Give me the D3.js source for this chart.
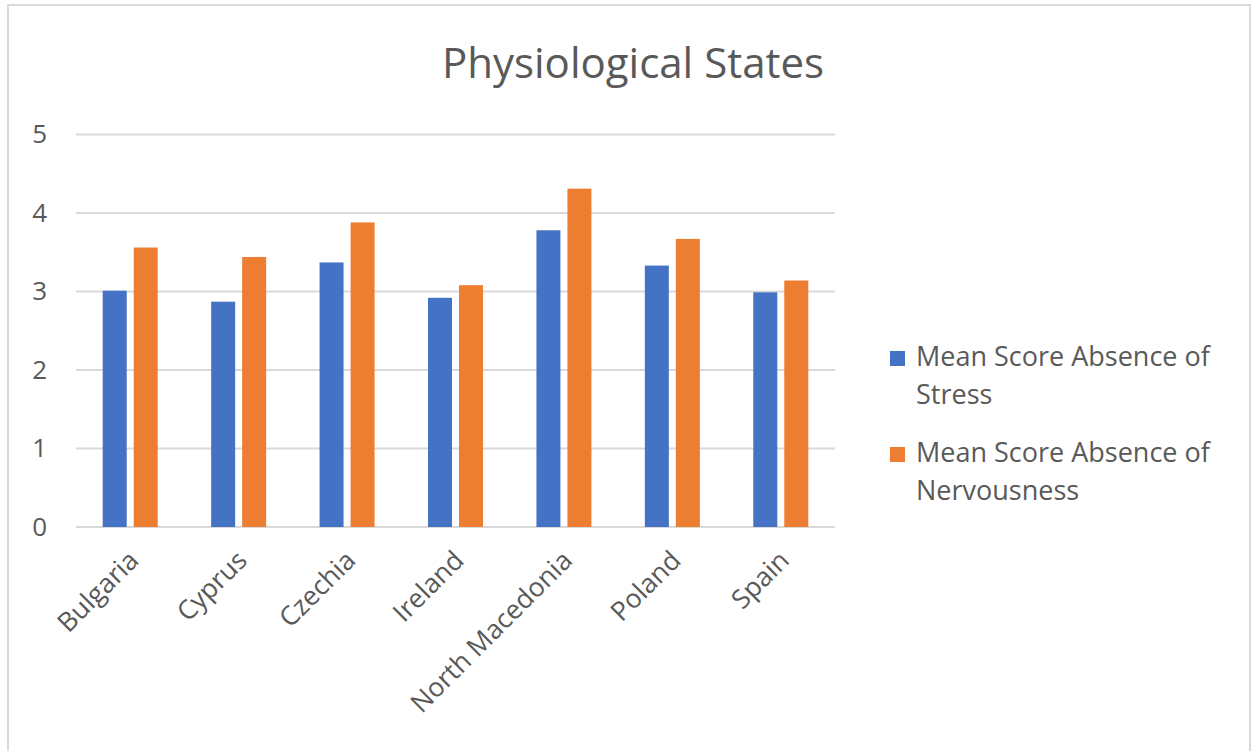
<!DOCTYPE html>
<html>
<head>
<meta charset="utf-8">
<script src="https://cdn.jsdelivr.net/npm/d3@7"></script>
<style>
  html, body { margin: 0; padding: 0; background: #fff; }
  svg { display: block; }
  text { font-family: "Open Sans", "Noto Sans", sans-serif; fill: #595959; }
</style>
</head>
<body>
<svg id="chart" width="1252" height="751"></svg>
<script>
// Country categories along the x axis
const countries = ["Bulgaria", "Cyprus", "Czechia", "Ireland", "North Macedonia", "Poland", "Spain"];
// Series names (legend)
const seriesNames = ["Mean Score Absence of Stress", "Mean Score Absence of Nervousness"];
// Mean scores per country
const stressScores = [3.01, 2.87, 3.37, 2.92, 3.78, 3.33, 2.99];
const nervousScores = [3.56, 3.44, 3.88, 3.08, 4.31, 3.67, 3.14];
// Y axis ticks
const yTicks = [0, 1, 2, 3, 4, 5];
const seriesColors = ["#4472C4", "#ED7D31"];
const titleText = "Physiological States";

const svg = d3.select("#chart");
const W = 1252, H = 751;

// Outer chart border
svg.append("rect")
  .attr("x", 8).attr("y", 5)
  .attr("width", W - 10).attr("height", H - 4)
  .attr("fill", "#fff").attr("stroke", "#d9d9d9").attr("stroke-width", 2);

const plot = { left: 76, right: 835, top: 134.5, bottom: 527 };

const x0 = d3.scaleBand().domain(countries).range([plot.left, plot.right]).paddingInner(0).paddingOuter(0);
const groupW = 55;
const x1 = d3.scaleBand().domain(seriesNames)
  .range([x0.bandwidth() / 2 - groupW / 2, x0.bandwidth() / 2 + groupW / 2])
  .paddingInner(7 / 31).paddingOuter(0);
const y = d3.scaleLinear().domain([0, 5]).range([plot.bottom, plot.top]);

// Gridlines
svg.append("g").selectAll("line").data(yTicks).join("line")
  .attr("x1", plot.left).attr("x2", plot.right)
  .attr("y1", d => y(d)).attr("y2", d => y(d))
  .attr("stroke", "#d9d9d9").attr("stroke-width", 2);

// Y axis labels
const yAxis = d3.axisLeft(y).tickValues(yTicks).tickSize(0).tickPadding(0).tickFormat(d3.format("d"));
const yg = svg.append("g").attr("transform", `translate(${plot.left - 29},0)`).call(yAxis);
yg.select(".domain").remove();
yg.selectAll("text").attr("font-size", 26).attr("fill", "#595959")
  .attr("font-family", "'Open Sans', sans-serif");

// Bars
const rows = countries.map((c, i) => ({ country: c, values: [stressScores[i], nervousScores[i]] }));
const groups = svg.append("g").selectAll("g").data(rows).join("g")
  .attr("transform", d => `translate(${x0(d.country)},0)`);
groups.selectAll("rect").data(d => d.values.map((v, j) => ({ key: seriesNames[j], value: v, j })))
  .join("rect")
  .attr("x", d => x1(d.key))
  .attr("width", x1.bandwidth())
  .attr("y", d => y(d.value))
  .attr("height", d => y(0) - y(d.value))
  .attr("fill", d => seriesColors[d.j]);

// X axis labels, rotated
const xAxis = d3.axisBottom(x0).tickSize(0).tickPadding(0);
const xg = svg.append("g").attr("transform", `translate(0,${plot.bottom})`).call(xAxis);
xg.select(".domain").remove();
xg.selectAll("text")
  .attr("font-size", 26.5).attr("fill", "#595959")
  .attr("font-family", "'Open Sans', sans-serif")
  .attr("text-anchor", "end")
  .attr("dy", 0)
  .attr("transform", "translate(10,35) rotate(-45)");

// Title
svg.append("text")
  .attr("x", 633).attr("y", 78)
  .attr("text-anchor", "middle")
  .attr("font-size", 42)
  .text(titleText);

// Legend with wrapped labels
const legendLines = [["Mean Score Absence of", "Stress"], ["Mean Score Absence of", "Nervousness"]];
const lg = svg.append("g").attr("transform", "translate(890,350)");
seriesNames.forEach((name, i) => {
  const g = lg.append("g").attr("transform", `translate(0,${i * 96})`);
  g.append("rect").attr("x", 0).attr("y", 1).attr("width", 15).attr("height", 15).attr("fill", seriesColors[i]);
  const t = g.append("text").attr("x", 26).attr("y", 16).attr("font-size", 27);
  legendLines[i].forEach((ln, k) => {
    t.append("tspan").attr("x", 26).attr("dy", k === 0 ? 0 : 38).text(ln);
  });
});
</script>
</body>
</html>
